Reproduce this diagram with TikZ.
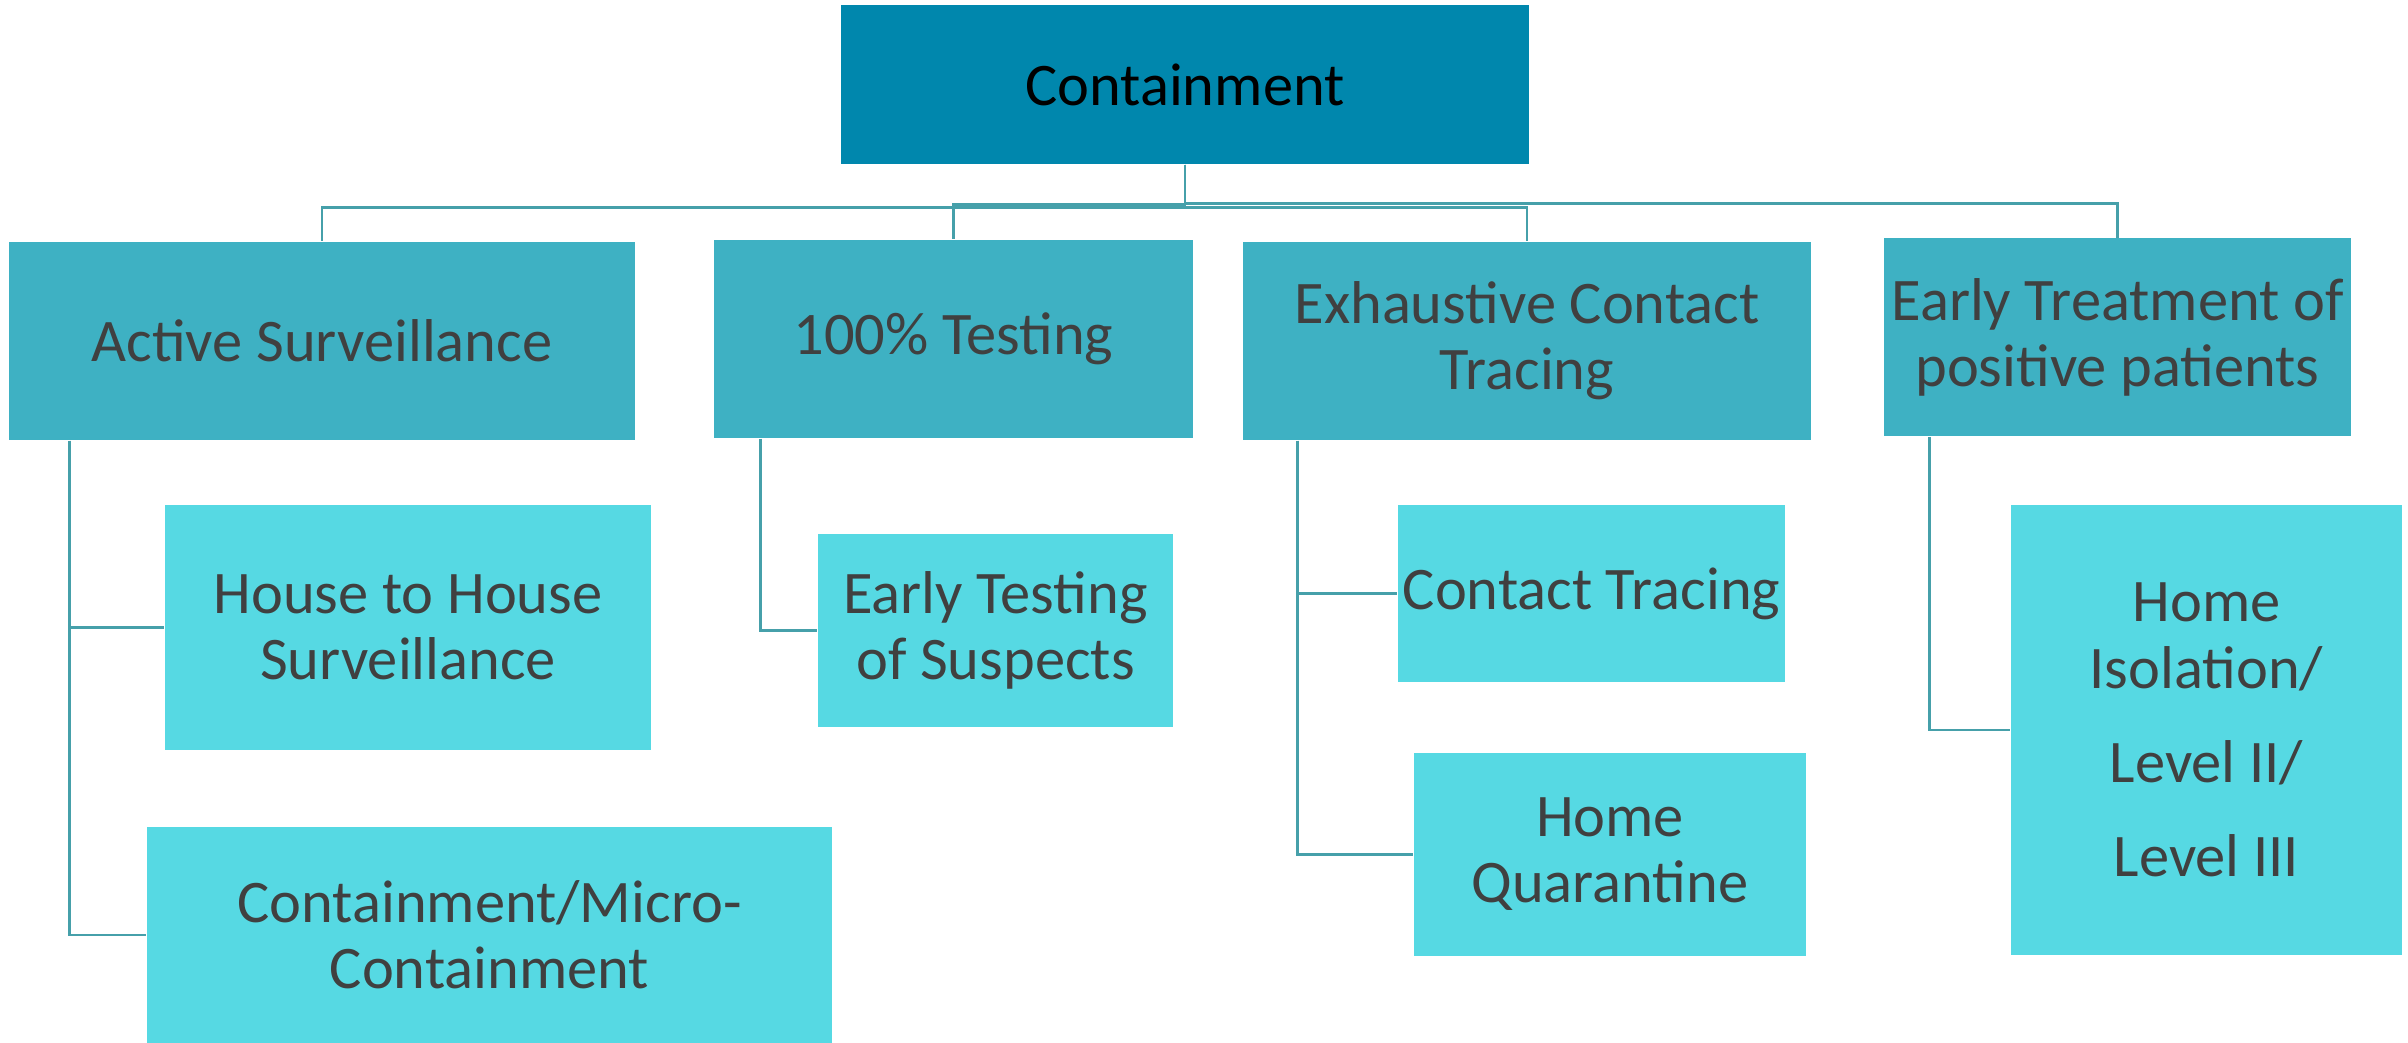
\documentclass[tikz,border=0pt]{standalone}
\usepackage{fontspec}
\setmainfont{Carlito}
\usetikzlibrary{calc}
\definecolor{rootblue}{RGB}{0,135,173}
\definecolor{midteal}{RGB}{62,177,195}
\definecolor{lightcyan}{RGB}{86,217,227}
\definecolor{linkteal}{RGB}{70,160,170}
\definecolor{textgray}{RGB}{64,64,64}

\begin{document}
\begin{tikzpicture}[
    box/.style={anchor=center, inner sep=0pt, align=center, text=textgray,
      font=\fontsize{17.2}{18.8}\selectfont},
    rootbox/.style={box, fill=rootblue, text=black},
    mainbox/.style={box, fill=midteal, minimum height=1.98cm},
    subbox/.style={box, fill=lightcyan},
    link/.style={draw=linkteal, line width=0.8pt}]
      \useasboundingbox (0,0) rectangle (24.08,-10.43);
      \node[rootbox, minimum width=6.88cm, minimum height=1.59cm] (root) at (11.85,-0.845) {Containment};
      \node[mainbox, minimum width=6.26cm] (active) at (3.22,-3.41) {Active Surveillance};
      \node[mainbox, minimum width=4.79cm] (testing) at (9.535,-3.39) {100\% Testing};
      \node[mainbox, minimum width=5.68cm] (tracing) at (15.27,-3.41) {Exhaustive Contact\\Tracing};
      \node[mainbox, minimum width=4.67cm] (treatment) at (21.175,-3.375) {Early Treatment of\\positive patients};
      \node[subbox, minimum width=4.86cm, minimum height=2.45cm] (house) at (4.08,-6.275) {House to House\\Surveillance};
      \node[subbox, minimum width=6.85cm, minimum height=2.16cm] (micro) at (4.895,-9.35) {Containment/Micro-\\Containment};
      \node[subbox, minimum width=3.55cm, minimum height=1.93cm] (suspects) at (9.955,-6.305) {Early Testing\\of Suspects};
      \node[subbox, minimum width=3.87cm, minimum height=1.77cm] (contact) at (15.915,-5.935) {Contact Tracing};
      \node[subbox, minimum width=3.92cm, minimum height=2.03cm] (quarantine) at (16.1,-8.545) {Home\\Quarantine};
      \node[subbox, minimum width=3.91cm, minimum height=4.5cm] (isolation) at (22.065,-7.3) {Home\\Isolation/\\[8pt]Level II/\\[8pt]Level III};
      \draw[link] (root.south) -- ++(0,-0.43) -| (active.north);
      \draw[link] (root.south) -- ++(0,-0.40) -| (testing.north);
      \draw[link] (root.south) -- ++(0,-0.43) -| (tracing.north);
      \draw[link] (root.south) -- ++(0,-0.39) -| (treatment.north);
      \draw[link] ($(active.south west)!0.098!(active.south east)$) |- (house.west);
      \draw[link] ($(active.south west)!0.098!(active.south east)$) |- (micro.west);
      \draw[link] ($(testing.south west)!0.098!(testing.south east)$) |- (suspects.west);
      \draw[link] ($(tracing.south west)!0.097!(tracing.south east)$) |- (contact.west);
      \draw[link] ($(tracing.south west)!0.097!(tracing.south east)$) |- (quarantine.west);
      \draw[link] ($(treatment.south west)!0.098!(treatment.south east)$) |- (isolation.west);
    \end{tikzpicture}
\end{document}
